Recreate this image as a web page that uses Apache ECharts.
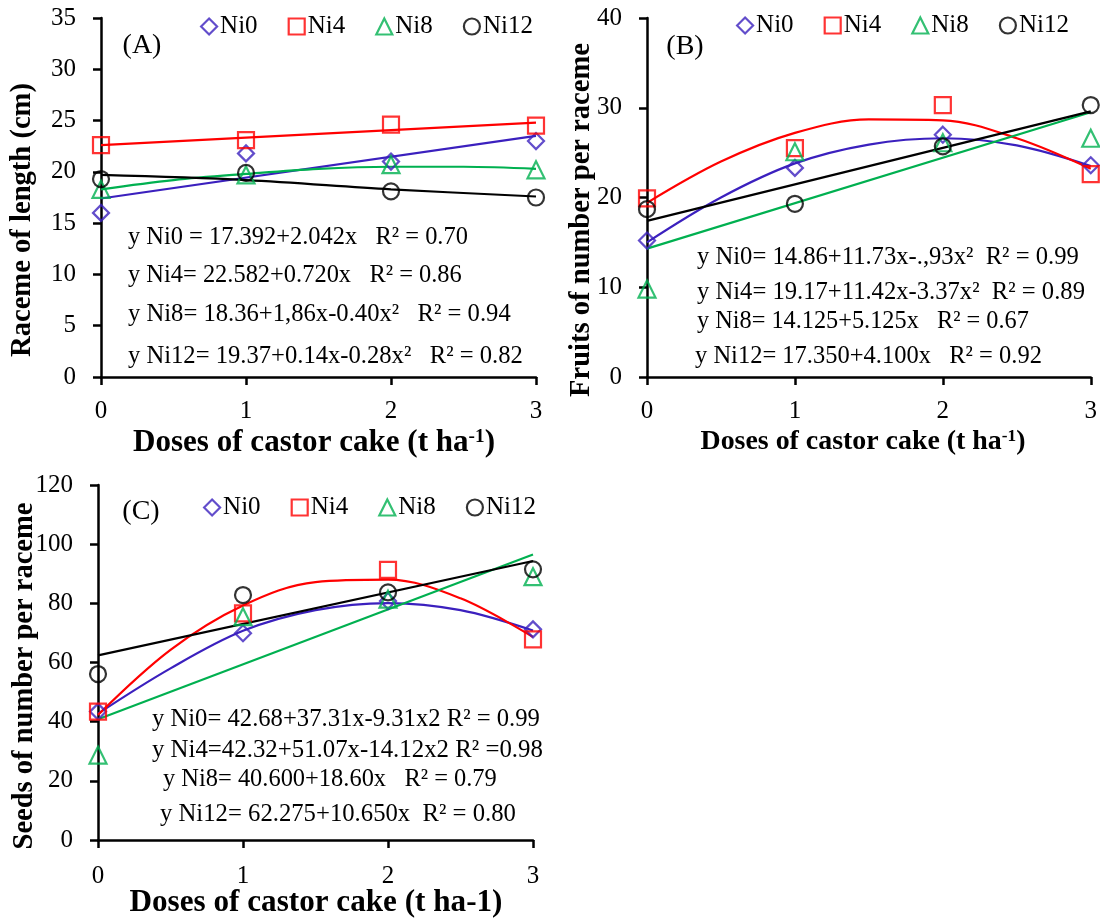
<!DOCTYPE html>
<html>
<head>
<meta charset="utf-8">
<script src="https://cdn.jsdelivr.net/npm/echarts@6/dist/echarts.min.js"></script>
<style>
html,body{margin:0;padding:0;background:#fff;}
#chart{width:1100px;height:922px;}
</style>
</head>
<body>
<div id="chart"></div>
<script>
// ---------------- DATA ----------------
const doses = [0, 1, 2, 3];
const seriesNames = ['Ni0', 'Ni4', 'Ni8', 'Ni12'];

// Panel A: raceme length (cm)
const A_ni0 = [16.0, 21.8, 21.0, 23.0];
const A_ni4 = [22.6, 23.1, 24.6, 24.5];
const A_ni8 = [18.3, 19.7, 20.7, 20.2];
const A_ni12 = [19.3, 19.9, 18.1, 17.5];
// Panel B: fruits per raceme
const B_ni0 = [15.2, 23.3, 27.0, 23.6];
const B_ni4 = [19.9, 25.5, 30.3, 22.6];
const B_ni8 = [9.8, 25.1, 26.1, 26.6];
const B_ni12 = [18.7, 19.3, 25.7, 30.3];
// Panel C: seeds per raceme
const C_ni0 = [43.4, 69.9, 80.8, 71.2];
const C_ni4 = [43.4, 76.6, 91.3, 67.8];
const C_ni8 = [28.7, 75.5, 81.4, 89.0];
const C_ni12 = [56.1, 82.8, 83.7, 91.5];

// Trend lines
const curveX = [0, 0.5, 1, 1.5, 2, 2.5, 3];
const endX = [0, 3];
const unitX = [0, 1, 2, 3];
const A_fit_ni0 = [17.4, 23.5];            // at endX
const A_fit_ni4 = [22.6, 24.8];            // at endX
const A_fit_ni8 = [18.3, 19.2, 19.8, 20.3, 20.5, 20.5, 20.3]; // at curveX
const A_fit_ni12 = [19.7, 19.2, 18.3, 17.6]; // at unitX
const B_fit_ni0 = [15.0, 20.0, 23.8, 25.9, 26.6, 25.8, 23.5]; // curveX
const B_fit_ni4 = [19.4, 24.0, 27.2, 28.7, 28.6, 26.6, 23.2]; // curveX
const B_fit_ni8 = [14.3, 29.5];  // endX
const B_fit_ni12 = [17.4, 29.6]; // endX
const C_fit_ni0 = [42.7, 58.0, 70.7, 77.7, 80.1, 77.7, 70.8]; // curveX
const C_fit_ni4 = [42.3, 64.3, 79.3, 87.2, 88.0, 81.7, 68.6]; // curveX
const C_fit_ni8 = [40.8, 96.5];  // endX
const C_fit_ni12 = [62.4, 94.3]; // endX

// Equations shown in each panel
const eqA = ['y Ni0 = 17.392+2.042x   R² = 0.70', 'y Ni4= 22.582+0.720x   R² = 0.86',
  'y Ni8= 18.36+1,86x-0.40x²   R² = 0.94', 'y Ni12= 19.37+0.14x-0.28x²   R² = 0.82'];
const eqB = ['y Ni0= 14.86+11.73x-.,93x²  R² = 0.99', 'y Ni4= 19.17+11.42x-3.37x²  R² = 0.89',
  'y Ni8= 14.125+5.125x   R² = 0.67', 'y Ni12= 17.350+4.100x   R² = 0.92'];
const eqC = ['y Ni0= 42.68+37.31x-9.31x2 R² = 0.99', 'y Ni4=42.32+51.07x-14.12x2 R² =0.98',
  'y Ni8= 40.600+18.60x   R² = 0.79', 'y Ni12= 62.275+10.650x  R² = 0.80'];

const yTitles = ['Raceme of length (cm)', 'Fruits of number per raceme', 'Seeds of number per raceme'];
const panelLabels = ['(A)', '(B)', '(C)'];

// ---------------- STYLE ----------------
const FF = '"Liberation Serif", "DejaVu Serif", serif';
const colors = ['#3B20BE', '#FF0000', '#00B050', '#000000'];
const symbols = ['diamond', 'rect', 'triangle', 'circle'];

const cv = document.createElement('canvas').getContext('2d');
function fit(text, weight, target) {
  cv.font = weight + ' 100px ' + FF;
  return 100 * target / cv.measureText(text).width;
}

const grids = [
  {left: 101, top: 18, width: 435, height: 359},
  {left: 647, top: 18, width: 444, height: 359},
  {left: 98, top: 485, width: 435, height: 355}
];
const yRanges = [[0, 35, 5], [0, 40, 10], [0, 120, 20]];
const xMargins = [22, 22, 24];

const axisLine = {show: true, lineStyle: {color: '#000', width: 2.5}};
const xAxes = grids.map((g, i) => ({
  type: 'value', gridIndex: i, min: 0, max: 3, interval: 1,
  axisLine: axisLine, axisTick: {show: true, length: 8, lineStyle: {color: '#000', width: 2.5}},
  axisLabel: {fontFamily: FF, fontSize: 25, color: '#000', margin: xMargins[i]},
  splitLine: {show: false}
}));
const yAxes = grids.map((g, i) => ({
  type: 'value', gridIndex: i, min: yRanges[i][0], max: yRanges[i][1], interval: yRanges[i][2],
  axisLine: axisLine, axisTick: {show: true, length: 8, lineStyle: {color: '#000', width: 2.5}},
  axisLabel: {fontFamily: FF, fontSize: 25, color: '#000', margin: 25},
  splitLine: {show: false}
}));

function pts(xs, ys) { return xs.map((x, k) => [x, ys[k]]); }

const obs = [[A_ni0, A_ni4, A_ni8, A_ni12], [B_ni0, B_ni4, B_ni8, B_ni12], [C_ni0, C_ni4, C_ni8, C_ni12]];
const fits = [
  [[endX, A_fit_ni0], [endX, A_fit_ni4], [curveX, A_fit_ni8], [unitX, A_fit_ni12]],
  [[curveX, B_fit_ni0], [curveX, B_fit_ni4], [endX, B_fit_ni8], [endX, B_fit_ni12]],
  [[curveX, C_fit_ni0], [curveX, C_fit_ni4], [endX, C_fit_ni8], [endX, C_fit_ni12]]
];

const series = [];
for (let p = 0; p < 3; p++) {
  for (let s = 0; s < 4; s++) {
    series.push({
      type: 'line', name: seriesNames[s] + ' fit', xAxisIndex: p, yAxisIndex: p,
      data: pts(fits[p][s][0], fits[p][s][1]), smooth: 0.35, showSymbol: false, symbol: 'none',
      lineStyle: {color: colors[s], width: 2.2}, silent: true, z: 2
    });
  }
  for (let s = 0; s < 4; s++) {
    series.push({
      type: 'scatter', name: seriesNames[s], xAxisIndex: p, yAxisIndex: p,
      data: pts(doses, obs[p][s]), symbol: symbols[s], symbolSize: s === 2 ? 17 : 16,
      itemStyle: {color: 'rgba(0,0,0,0)', borderColor: colors[s], borderWidth: 2.2},
      clip: false, z: 3
    });
  }
}

const legendPos = [{left: 200, top: 14}, {left: 736, top: 13}, {left: 203, top: 495}];
const legends = legendPos.map(lp => ({
  left: lp.left, top: lp.top, orient: 'horizontal', padding: 0, itemGap: 30,
  itemWidth: 16, itemHeight: 16,
  data: seriesNames.map((n, s) => ({name: n, icon: symbols[s]})),
  itemStyle: {color: 'rgba(0,0,0,0)', borderWidth: 2.2, borderColor: 'inherit'},
  textStyle: {fontFamily: FF, fontSize: 25, color: '#000', padding: [0, 0, 0, -2]},
  selectedMode: false
}));

// ---------------- GRAPHIC TEXT ----------------
const graphic = [];
function txt(text, x, y, size, weight, align, rot) {
  graphic.push({type: 'text', x: x, y: y, rotation: rot || 0, silent: true,
    style: {text: text, fill: '#000', font: weight + ' ' + size.toFixed(2) + 'px ' + FF,
      align: align || 'left', verticalAlign: 'middle'}});
}
// panel labels
txt(panelLabels[0], 142, 46, 28, 'normal', 'center');
txt(panelLabels[1], 685, 47, 28, 'normal', 'center');
txt(panelLabels[2], 141, 512, 28, 'normal', 'center');
// y titles
txt(yTitles[0], 23, 220, fit(yTitles[0], 'bold', 274), 'bold', 'center', Math.PI / 2);
txt(yTitles[1], 582, 220, fit(yTitles[1], 'bold', 354), 'bold', 'center', Math.PI / 2);
txt(yTitles[2], 25, 676, fit(yTitles[2], 'bold', 347), 'bold', 'center', Math.PI / 2);
// x titles
function xTitle(cx, cy, width, sup) {
  const base = 'Doses of castor cake (t ha';
  if (sup) {
    const fs = fit(base + '-1)', 'bold', width - 6);
    graphic.push({type: 'text', x: cx, y: cy, silent: true,
      style: {text: base + '{s|-1})', fill: '#000', fontFamily: FF, fontWeight: 'bold', fontSize: fs,
        align: 'center', verticalAlign: 'middle',
        rich: {s: {fontFamily: FF, fontWeight: 'bold', fontSize: fs * 0.62, verticalAlign: 'top', fill: '#000'}}}});
  } else {
    txt(base + '-1)', cx, cy, fit(base + '-1)', 'bold', width), 'bold', 'center');
  }
}
xTitle(314, 443, 378, true);
xTitle(863, 442, 340, true);
xTitle(316, 903, 373, false);
// equations
const eqPos = [
  [[128, 238, 340], [128, 276, 334], [128, 315, 383], [128, 357, 395]],
  [[697, 258, 382], [697, 293, 388], [697, 322, 332], [695, 357, 347]],
  [[152, 720, 388], [152, 750, 391], [163, 780, 334], [160, 815, 356]]
];
[eqA, eqB, eqC].forEach((eqs, p) => {
  eqs.forEach((e, k) => {
    const [x, y, w] = eqPos[p][k];
    txt(e, x, y, fit(e, 'normal', w), 'normal', 'left');
  });
});

const chart = echarts.init(document.getElementById('chart'), null, {renderer: 'canvas'});
chart.setOption({
  backgroundColor: '#fff',
  animation: false,
  grid: grids,
  xAxis: xAxes,
  yAxis: yAxes,
  legend: legends,
  series: series,
  graphic: graphic
});
</script>
</body>
</html>
